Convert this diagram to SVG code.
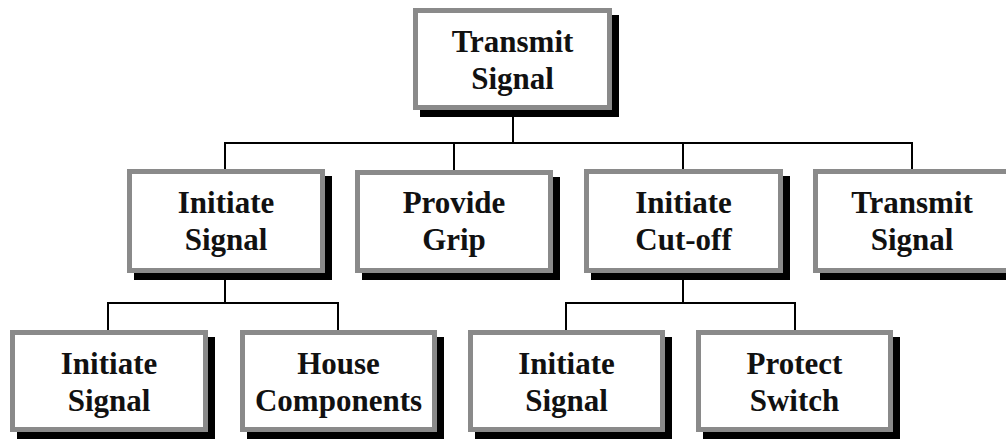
<svg xmlns="http://www.w3.org/2000/svg" width="1006" height="439" viewBox="0 0 1006 439">
<style>
.sh{fill:#000}
.bx{fill:#fff;stroke:#8a8a8a;stroke-width:5}
.t{font-family:"Liberation Serif","Times New Roman",serif;font-weight:bold;font-size:31px;fill:#111;text-anchor:middle}
.c{stroke:#000;stroke-width:2;fill:none}
</style>
<rect width="1006" height="439" fill="#fff"/>
<g id="connectors">
<path class="c" d="M513 112V143M225 143H912M225 142V170M454 142V170M683 142V170M912 142V170"/>
<path class="c" d="M225 275V303M108 303H338M108 302V331M338 302V331"/>
<path class="c" d="M683 275V303M566 303H795M566 302V331M795 302V331"/>
</g>
<g id="n_top">
<rect class="sh" x="420" y="15" width="199" height="102"/>
<rect class="bx" x="415.5" y="10.5" width="194" height="97"/>
<text class="t" x="512.5" y="52">Transmit</text>
<text class="t" x="512.5" y="89">Signal</text>
</g>
<g id="n_initiate_signal">
<rect class="sh" x="134" y="176" width="198" height="104"/>
<rect class="bx" x="129.5" y="171.5" width="193" height="99"/>
<text class="t" x="226" y="213">Initiate</text>
<text class="t" x="226" y="250">Signal</text>
</g>
<g id="n_provide_grip">
<rect class="sh" x="362" y="177" width="198" height="103"/>
<rect class="bx" x="357.5" y="172.5" width="193" height="98"/>
<text class="t" x="454" y="213">Provide</text>
<text class="t" x="454" y="250">Grip</text>
</g>
<g id="n_initiate_cutoff">
<rect class="sh" x="591" y="176" width="199" height="104"/>
<rect class="bx" x="586.5" y="171.5" width="194" height="99"/>
<text class="t" x="683.5" y="213">Initiate</text>
<text class="t" x="683.5" y="250">Cut-off</text>
</g>
<g id="n_transmit_signal">
<rect class="sh" x="820" y="176" width="198" height="104"/>
<rect class="bx" x="815.5" y="171.5" width="193" height="99"/>
<text class="t" x="912" y="213">Transmit</text>
<text class="t" x="912" y="250">Signal</text>
</g>
<g id="n_initiate_signal_2">
<rect class="sh" x="17" y="337" width="198" height="102"/>
<rect class="bx" x="12.5" y="332.5" width="193" height="97"/>
<text class="t" x="109" y="374">Initiate</text>
<text class="t" x="109" y="411">Signal</text>
</g>
<g id="n_house_components">
<rect class="sh" x="247" y="337" width="197" height="102"/>
<rect class="bx" x="242.5" y="332.5" width="192" height="97"/>
<text class="t" x="338.5" y="374">House</text>
<text class="t" x="338.5" y="411">Components</text>
</g>
<g id="n_initiate_signal_3">
<rect class="sh" x="475" y="337" width="197" height="102"/>
<rect class="bx" x="470.5" y="332.5" width="192" height="97"/>
<text class="t" x="566.5" y="374">Initiate</text>
<text class="t" x="566.5" y="411">Signal</text>
</g>
<g id="n_protect_switch">
<rect class="sh" x="703" y="337" width="197" height="102"/>
<rect class="bx" x="698.5" y="332.5" width="192" height="97"/>
<text class="t" x="794.5" y="374">Protect</text>
<text class="t" x="794.5" y="411">Switch</text>
</g>
</svg>
